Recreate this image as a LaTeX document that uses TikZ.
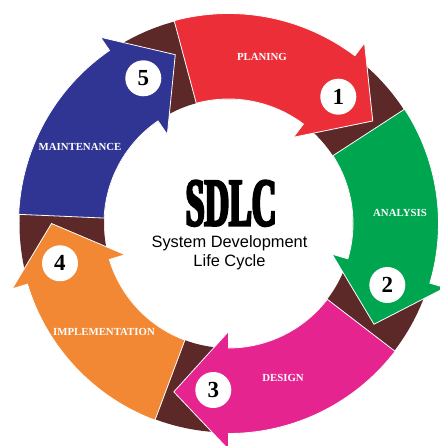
\documentclass[tikz,border=0pt]{standalone}
\usepackage{fontspec}
\setmainfont{Liberation Serif}
\newfontfamily\subfont{Liberation Sans}
\newfontfamily\sdlcfont[FakeStretch=0.5,FakeBold=3.5]{Liberation Serif}
\definecolor{ringbrown}{RGB}{92,40,40}
\definecolor{planred}{RGB}{236,46,56}
\definecolor{anagreen}{RGB}{0,165,80}
\definecolor{desmagenta}{RGB}{230,36,144}
\definecolor{imporange}{RGB}{242,136,52}
\definecolor{mainblue}{RGB}{48,52,146}

\begin{document}
\begin{tikzpicture}[x=1pt,y=-1pt,
  stage/.style={draw=white,line width=0.8pt},
  num/.style={circle,fill=white,inner sep=0pt,minimum size=36pt,font=\fontsize{23}{23}\selectfont\bfseries},
  lbl/.style={text=white,inner sep=0pt,font=\fontsize{10.8}{11}\selectfont\bfseries}]
\useasboundingbox (-228.5,-223.5) rectangle (210.5,222.5);
\fill[ringbrown,even odd rule] (0,0) circle[radius=209] (0,0) circle[radius=124.5];
\filldraw[stage,fill=planred] (-105:124.5) -- (-105:210) arc[start angle=-105,end angle=-53,radius=210] -- (-53:226) -- (-35.4:177) -- (-53:108) -- (-53:124.5) arc[start angle=-53,end angle=-105,radius=124.5] -- cycle;
\filldraw[stage,fill=anagreen] (-33:124.5) -- (-33:210) arc[start angle=-33,end angle=16.5,radius=210] -- (16.5:226) -- (34.7:177) -- (16.5:108) -- (16.5:124.5) arc[start angle=16.5,end angle=-33,radius=124.5] -- cycle;
\filldraw[stage,fill=desmagenta] (37.5:124.5) -- (37.5:210) arc[start angle=37.5,end angle=90,radius=210] -- (90:226) -- (108:177) -- (90:108) -- (90:124.5) arc[start angle=90,end angle=37.5,radius=124.5] -- cycle;
\filldraw[stage,fill=imporange] (110.5:124.5) -- (110.5:210) arc[start angle=110.5,end angle=163.2,radius=210] -- (163.2:226) -- (180:177) -- (163.2:108) -- (163.2:124.5) arc[start angle=163.2,end angle=110.5,radius=124.5] -- cycle;
\filldraw[stage,fill=mainblue] (182.5:124.5) -- (182.5:210) arc[start angle=182.5,end angle=235.5,radius=210] -- (235.5:226) -- (252.5:177) -- (235.5:108) -- (235.5:124.5) arc[start angle=235.5,end angle=182.5,radius=124.5] -- cycle;
\node[lbl] (plan)at(33.5,-166.5){PLANING};
\node[lbl] (ana)at(171.5,-10.5){ANALYSIS};
\node[lbl] (des)at(54.5,154.5){DESIGN};
\node[lbl] (imp)at(-124.5,108.5){IMPLEMENTATION};
\node[lbl] (main)at(-148.5,-76.5){MAINTENANCE};
\node[num] (n1)at(109.8,-126.8){1};
\node[num] (n2)at(158.8,61.5){2};
\node[num] (n3)at(-15.2,166.5){3};
\node[num] (n4)at(-168.5,39.8){4};
\node[num] (n5)at(-85.2,-145.2){5};
\node[anchor=base,inner sep=0pt,font=\sdlcfont\bfseries\fontsize{68}{68}\selectfont] (title)at(2.5,2){SDLC};
\node[anchor=base,inner sep=0pt,font=\subfont\fontsize{16.4}{19}\selectfont] (sub1)at(1,24){System Development};
\node[anchor=base,inner sep=0pt,font=\subfont\fontsize{16.4}{19}\selectfont] (sub2)at(1,43){Life Cycle};
\end{tikzpicture}
\end{document}
